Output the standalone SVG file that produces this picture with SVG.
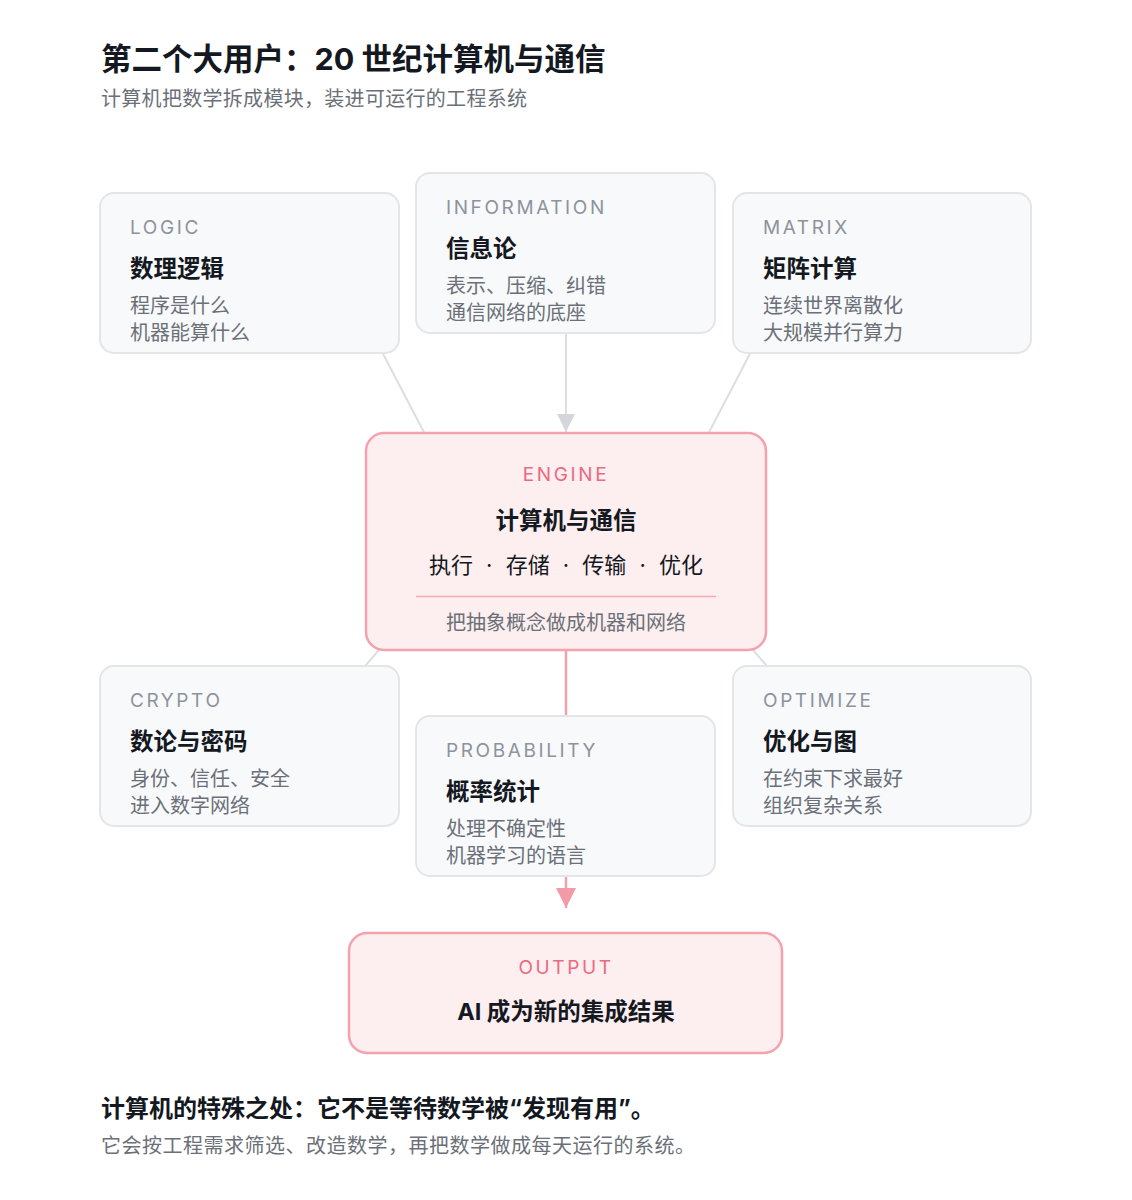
<svg xmlns="http://www.w3.org/2000/svg" width="1132" height="1200" viewBox="0 0 1132 1200">
<defs>
<style>
text{font-family:"Inter","Noto Sans CJK SC","Noto Sans",sans-serif;}
.card{fill:#f8f9fb;stroke:#e3e5e9;stroke-width:2;}
.hot{fill:#fdeef0;stroke:#f4a3ae;stroke-width:2.5;}
.lbl{font-size:19px;letter-spacing:2.6px;fill:#8d939c;}
.lblp{font-size:19px;letter-spacing:2.6px;fill:#ea6a80;}
.ttl{font-size:23.5px;font-weight:700;fill:#141821;}
.sub{font-size:20px;fill:#6b7078;}
.gl{stroke:#dcdee2;stroke-width:2;fill:none;}
.pl{stroke:#f4a0ab;stroke-width:2.5;fill:none;}
</style>
<marker id="ag" viewBox="0 0 10 10" refX="10" refY="5" markerWidth="18" markerHeight="18" markerUnits="userSpaceOnUse" orient="auto"><path d="M0,0 L10,5 L0,10 z" fill="#d3d6db"/></marker>
<marker id="ap" viewBox="0 0 10 10" refX="10" refY="5" markerWidth="20" markerHeight="20" markerUnits="userSpaceOnUse" orient="auto"><path d="M0,0 L10,5 L0,10 z" fill="#f49aa7"/></marker>
</defs>
<rect width="1132" height="1200" fill="#ffffff"/>
<text x="101" y="70" font-size="30.5" font-weight="700" fill="#141821">第二个大用户：20 世纪计算机与通信</text>
<text x="101" y="106" class="sub" letter-spacing="0.3">计算机把数学拆成模块，装进可运行的工程系统</text>

<g id="connectors">
<line class="gl" x1="380" y1="348" x2="428" y2="440"/>
<line class="gl" x1="753" y1="348" x2="705" y2="440"/>
<line class="gl" x1="566" y1="334" x2="566" y2="432" marker-end="url(#ag)"/>
<line class="gl" x1="360" y1="672" x2="384" y2="644"/>
<line class="gl" x1="772" y1="672" x2="748" y2="644"/>
<line class="pl" x1="566" y1="650" x2="566" y2="740"/>
<line class="pl" x1="566" y1="877" x2="566" y2="908" marker-end="url(#ap)"/>
</g>

<g id="logic">
<rect class="card" x="100" y="193" width="299" height="160" rx="14"/>
<text x="130" y="234" class="lbl">LOGIC</text>
<text x="130" y="277" class="ttl">数理逻辑</text>
<text x="130" y="313" class="sub">程序是什么</text>
<text x="130" y="340" class="sub">机器能算什么</text>
</g>
<g id="information">
<rect class="card" x="416" y="173" width="299" height="160" rx="14"/>
<text x="446" y="214" class="lbl">INFORMATION</text>
<text x="446" y="257" class="ttl">信息论</text>
<text x="446" y="293" class="sub">表示、压缩、纠错</text>
<text x="446" y="320" class="sub">通信网络的底座</text>
</g>
<g id="matrix">
<rect class="card" x="733" y="193" width="298" height="160" rx="14"/>
<text x="763" y="234" class="lbl">MATRIX</text>
<text x="763" y="277" class="ttl">矩阵计算</text>
<text x="763" y="313" class="sub">连续世界离散化</text>
<text x="763" y="340" class="sub">大规模并行算力</text>
</g>
<g id="engine">
<rect class="hot" x="366" y="433" width="400" height="217" rx="18"/>
<text x="566" y="481" class="lblp" text-anchor="middle">ENGINE</text>
<text x="566" y="529" class="ttl" text-anchor="middle">计算机与通信</text>
<text x="566" y="573" font-size="22" fill="#141821" text-anchor="middle" word-spacing="7">执行 · 存储 · 传输 · 优化</text>
<line x1="416" y1="596.500" x2="716" y2="596.500" stroke="#f4a9b3" stroke-width="1.5"/>
<text x="566" y="630" class="sub" text-anchor="middle">把抽象概念做成机器和网络</text>
</g>
<g id="crypto">
<rect class="card" x="100" y="666" width="299" height="160" rx="14"/>
<text x="130" y="707" class="lbl">CRYPTO</text>
<text x="130" y="750" class="ttl">数论与密码</text>
<text x="130" y="786" class="sub">身份、信任、安全</text>
<text x="130" y="813" class="sub">进入数字网络</text>
</g>
<g id="probability">
<rect class="card" x="416" y="716" width="299" height="160" rx="14"/>
<text x="446" y="757" class="lbl">PROBABILITY</text>
<text x="446" y="800" class="ttl">概率统计</text>
<text x="446" y="836" class="sub">处理不确定性</text>
<text x="446" y="863" class="sub">机器学习的语言</text>
</g>
<g id="optimize">
<rect class="card" x="733" y="666" width="298" height="160" rx="14"/>
<text x="763" y="707" class="lbl">OPTIMIZE</text>
<text x="763" y="750" class="ttl">优化与图</text>
<text x="763" y="786" class="sub">在约束下求最好</text>
<text x="763" y="813" class="sub">组织复杂关系</text>
</g>
<g id="output">
<rect class="hot" x="349" y="933" width="433" height="120" rx="18"/>
<text x="566" y="974" class="lblp" text-anchor="middle">OUTPUT</text>
<text x="566" y="1020" class="ttl" text-anchor="middle">AI 成为新的集成结果</text>
</g>

<text x="101" y="1117" font-size="24" font-weight="700" fill="#141821">计算机的特殊之处：它不是等待数学被“发现有用”。</text>
<text x="101" y="1153" class="sub" letter-spacing="0.5">它会按工程需求筛选、改造数学，再把数学做成每天运行的系统。</text>
</svg>
